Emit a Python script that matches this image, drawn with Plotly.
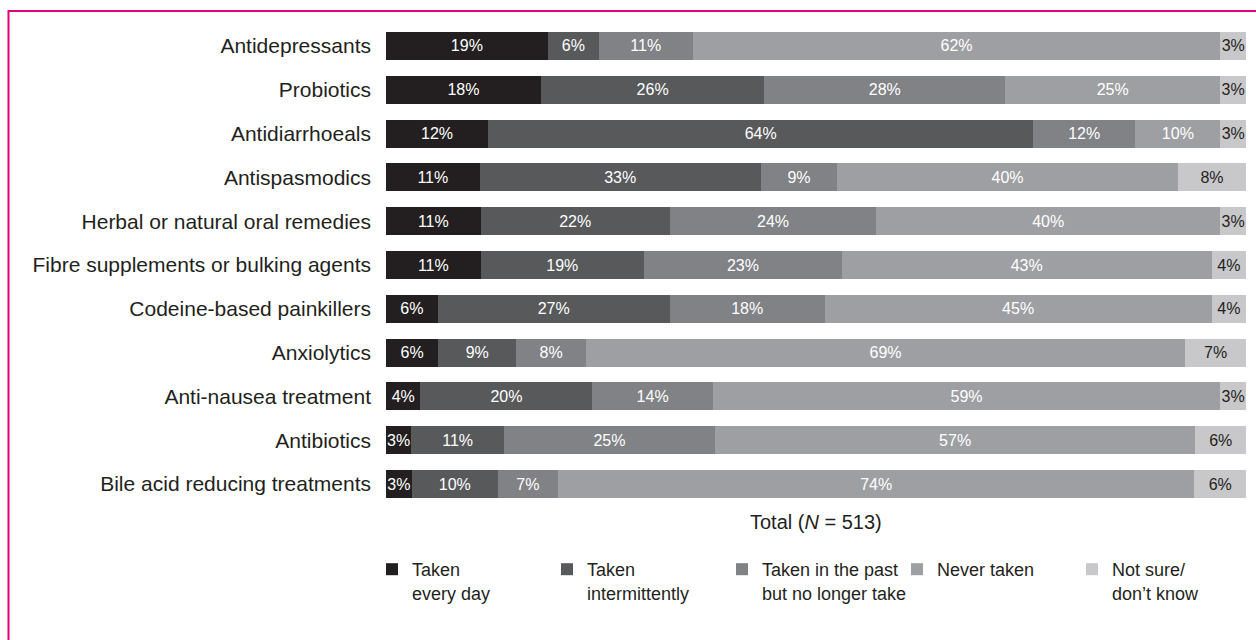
import plotly.graph_objects as go

categories = [
    "Antidepressants", "Probiotics", "Antidiarrhoeals", "Antispasmodics",
    "Herbal or natural oral remedies", "Fibre supplements or bulking agents",
    "Codeine-based painkillers", "Anxiolytics", "Anti-nausea treatment",
    "Antibiotics", "Bile acid reducing treatments",
]
series_names = [
    "Taken<br>every day", "Taken<br>intermittently",
    "Taken in the past<br>but no longer take", "Never taken",
    "Not sure/<br>don\u2019t know",
]
every_day = [19, 18, 12, 11, 11, 11, 6, 6, 4, 3, 3]
intermittently = [6, 26, 64, 33, 22, 19, 27, 9, 20, 11, 10]
past = [11, 28, 12, 9, 24, 23, 18, 8, 14, 25, 7]
never = [62, 25, 10, 40, 40, 43, 45, 69, 59, 57, 74]
not_sure = [3, 3, 3, 8, 3, 4, 4, 7, 3, 6, 6]
series_values = [every_day, intermittently, past, never, not_sure]
colors = ["#231f20", "#58595b", "#808285", "#9e9fa2", "#c8c8ca"]
text_colors = ["white", "white", "white", "white", "#231f20"]

W, H = 1256, 640
L, R, T, B = 386, 10, 24, 134
pw, ph = W - L - R, H - T - B

def px(x):
    return (x - L) / pw

def py(y):
    return (H - B - y) / ph

FONT = "Liberation Sans, Arial, Helvetica, sans-serif"
INK = "#231f20"

fig = go.Figure()
for name, vals, c, tc in zip(series_names, series_values, colors, text_colors):
    fig.add_trace(go.Bar(
        y=categories, x=vals, name=name, orientation="h",
        marker=dict(color=c, line=dict(width=0)),
        text=[f"{v}%" for v in vals], texttemplate="%{text}",
        textposition="inside", insidetextanchor="middle", textangle=0,
        textfont=dict(color=tc, size=16, family=FONT),
        hoverinfo="skip",
    ))

fig.add_annotation(
    text="Total (<i>N</i> = 513)", xref="paper", yref="paper",
    x=0.5, y=py(522), showarrow=False, yanchor="middle",
    font=dict(size=20, color=INK, family=FONT),
)

# magenta frame (top and left edges)
fig.add_shape(type="line", xref="paper", yref="paper",
              x0=px(8), x1=px(1258), y0=py(11), y1=py(11),
              line=dict(color="#e2007a", width=2))
fig.add_shape(type="line", xref="paper", yref="paper",
              x0=px(8.5), x1=px(8.5), y0=py(10), y1=py(645),
              line=dict(color="#e2007a", width=2))

fig.update_layout(
    width=W, height=H, barmode="stack", barnorm="percent", bargap=0.36,
    margin=dict(l=L, r=R, t=T, b=B, autoexpand=False),
    paper_bgcolor="white", plot_bgcolor="white",
    font=dict(family=FONT, color=INK),
    uniformtext=dict(minsize=16, mode="show"),
    xaxis=dict(visible=False, range=[0, 100], fixedrange=True),
    yaxis=dict(autorange="reversed", showgrid=False, showline=False, ticks="",
               ticklabelstandoff=14, tickfont=dict(size=21, color=INK)),
    legend=dict(orientation="h", x=px(372), xanchor="left", y=py(551), yanchor="top",
                entrywidth=130, entrywidthmode="pixels", valign="top",
                traceorder="normal", font=dict(size=18, color=INK),
                itemclick=False, itemdoubleclick=False),
    showlegend=True,
)

fig.write_html("out.html")
